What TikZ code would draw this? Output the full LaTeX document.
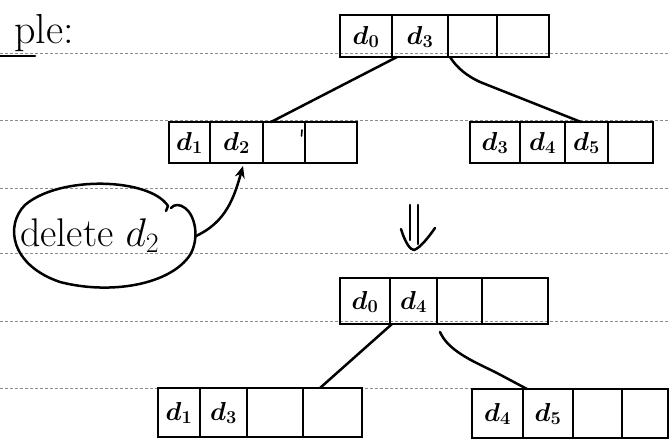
\RequirePackage{fix-cm}
\documentclass[tikz,border=0pt]{standalone}
\usepackage{bm}
\usetikzlibrary{arrows.meta,calc}
\begin{document}
\begin{tikzpicture}[x=1pt,y=-1pt]
\tikzset{
 box/.style={draw, line width=2.8pt, inner sep=0pt, outer sep=0pt, anchor=north west},
 divider/.style={line width=2.5pt},
 conn/.style={line width=2.5pt, line cap=round, line join=round},
 celltext/.style={font=\fontsize{26}{28}\selectfont\bfseries, inner sep=0pt},
 ruleline/.style={black!45, line width=0.6pt, dash pattern=on 3pt off 2pt},
}
\useasboundingbox (0,0) rectangle (670,443);
\clip (0,0) rectangle (670,443);
% notebook rules
\foreach \yy in {53,120,188,253,321,388} \draw[ruleline] (0,\yy) -- (670,\yy);

% title fragment
\node[anchor=base east, font=\fontsize{42}{44}\selectfont, inner sep=0pt] (ple) at (74,44) {ple:};
\coordinate (ulA) at (0,56);
\coordinate (ulB) at (35,56);
\draw[conn] (ulA) -- (ulB);

% top node (before)
\node[box, minimum width=209pt, minimum height=42pt] (T1) at (340,15) {};
\foreach \dx in {52,108,157} \draw[divider] ($(T1.north west)+(\dx,0)$) -- ($(T1.south west)+(\dx,0)$);
\node[celltext] (T1a) at (366,37) {$\bm{d}_{\bm 0}$};
\node[celltext] (T1b) at (420,37) {$\bm{d}_{\bm 3}$};

% left child (before)
\node[box, minimum width=188pt, minimum height=41pt] (L1) at (169,122) {};
\foreach \dx in {41,94,136} \draw[divider] ($(L1.north west)+(\dx,0)$) -- ($(L1.south west)+(\dx,0)$);
\draw[line width=1.6pt, line cap=round] (302,130) -- (301.5,136);
\node[celltext] (L1a) at (189.5,143) {$\bm{d}_{\bm 1}$};
\node[celltext] (L1b) at (236.5,143) {$\bm{d}_{\bm 2}$};

% right child (before)
\node[box, minimum width=183pt, minimum height=41pt] (R1) at (470,122) {};
\foreach \dx in {50,95,138} \draw[divider] ($(R1.north west)+(\dx,0)$) -- ($(R1.south west)+(\dx,0)$);
\node[celltext] (R1a) at (495,143) {$\bm{d}_{\bm 3}$};
\node[celltext] (R1b) at (542.5,143) {$\bm{d}_{\bm 4}$};
\node[celltext] (R1c) at (586.5,143) {$\bm{d}_{\bm 5}$};

% connectors (before)
\draw[conn] ($(T1.south west)+(57,0)$) -- ($(L1.north west)+(102,0)$);
\draw[conn] ($(T1.south west)+(110,0)$) .. controls (457,68) and (467,76) .. (480,82) -- ($(R1.north west)+(111,0)$);

% delete bubble
\node[anchor=base west, font=\fontsize{40}{44}\selectfont, inner sep=0pt] (del) at (20,247) {delete $d_2$};
\draw[conn] (168,206) .. controls (150,178) and (60,175) .. (25,205)
  .. controls (5,225) and (10,265) .. (60,282)
  .. controls (110,295) and (170,285) .. (190,255)
  .. controls (200,238) and (195,215) .. (185,208)
  .. controls (180,204) and (174,204) .. (171,208);
\draw[conn] (168,206) -- (166,211);
\coordinate (e) at (196,236);
\coordinate (L1tip) at ($(L1.south west)+(74,3)$);
\draw[conn, -{Stealth[length=12pt,width=10pt]}] (e) .. controls (226,222) and (234,198) .. (L1tip);

% double arrow
\draw[conn] (410,205) -- (410,240);
\draw[conn] (418,205) -- (418,244);
\draw[conn] (401,229) .. controls (405,242) and (410,250) .. (414,250) .. controls (420,248) and (428,238) .. (435,228);

% top node (after)
\node[box, minimum width=208pt, minimum height=46pt] (T2) at (340,278) {};
\foreach \dx in {50,97,142} \draw[divider] ($(T2.north west)+(\dx,0)$) -- ($(T2.south west)+(\dx,0)$);
\node[celltext] (T2a) at (365,302) {$\bm{d}_{\bm 0}$};
\node[celltext] (T2b) at (413.5,302) {$\bm{d}_{\bm 4}$};

% left child (after)
\node[box, minimum width=204pt, minimum height=49pt] (L2) at (158,388) {};
\foreach \dx in {42,89,145} \draw[divider] ($(L2.north west)+(\dx,0)$) -- ($(L2.south west)+(\dx,0)$);
\node[celltext] (L2a) at (179,413) {$\bm{d}_{\bm 1}$};
\node[celltext] (L2b) at (223.5,413) {$\bm{d}_{\bm 3}$};

% right child (after)
\node[box, minimum width=196pt, minimum height=49pt] (R2) at (472,389) {};
\foreach \dx in {51,101,150} \draw[divider] ($(R2.north west)+(\dx,0)$) -- ($(R2.south west)+(\dx,0)$);
\node[celltext] (R2a) at (497.5,414) {$\bm{d}_{\bm 4}$};
\node[celltext] (R2b) at (548,414) {$\bm{d}_{\bm 5}$};

% connectors (after)
\draw[conn] ($(T2.south west)+(52,0)$) -- ($(L2.north west)+(162,0)$);
\draw[conn] ($(T2.south west)+(100,8)$) .. controls (448,350) and (470,360) .. (495,372) -- ($(R2.north west)+(55,0)$);
\end{tikzpicture}
\end{document}
